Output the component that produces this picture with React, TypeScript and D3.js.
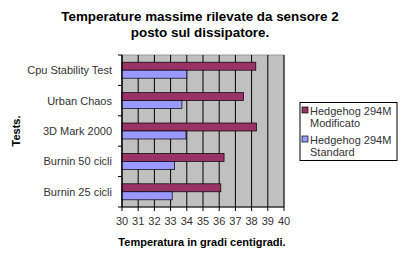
import React from "react";
import * as d3 from "d3";

const categories = ["Cpu Stability Test", "Urban Chaos", "3D Mark 2000", "Burnin 50 cicli", "Burnin 25 cicli"];
const modificato = [38.26, 37.5, 38.3, 36.3, 36.1];
const standard = [34.0, 33.7, 33.95, 33.25, 33.1];
const xTicks = [30, 31, 32, 33, 34, 35, 36, 37, 38, 39, 40];
const seriesNames = [["Hedgehog 294M", "Modificato"], ["Hedgehog 294M", "Standard"]];
const seriesColors = ["#993366", "#9999ff"];

const W = 400, H = 260;
const plot = { left: 122, right: 284, top: 55, bottom: 207 };
const font = "'Liberation Sans', Arial, sans-serif";

export default function App() {
  const x = d3.scaleLinear().domain([30, 40]).range([plot.left, plot.right]);
  const y = d3.scaleBand<string>().domain(categories).range([plot.top, plot.bottom]).padding(0);
  const bw = y.bandwidth();
  const barH = 8;
  const series = [modificato, standard];

  return (
    <svg width={W} height={H} style={{ position: "absolute", left: 0, top: 0, background: "#fff" }} fontFamily={font}>
      <rect x={0} y={0} width={W} height={H} fill="#fff" />
      <text x={200} y={21} textAnchor="middle" fontSize={13.4} fontWeight="bold" fill="#000">Temperature massime rilevate da sensore 2</text>
      <text x={200} y={37} textAnchor="middle" fontSize={13.4} fontWeight="bold" fill="#000">posto sul dissipatore.</text>

      <rect x={plot.left} y={plot.top} width={plot.right - plot.left} height={plot.bottom - plot.top} fill="#c0c0c0" stroke="#999" strokeWidth={1} />
      {xTicks.map((t) => (
        <line key={"g" + t} x1={x(t)} x2={x(t)} y1={plot.top} y2={plot.bottom} stroke="#000" strokeWidth={1} />
      ))}

      {categories.map((c, i) => (
        <g key={c}>
          {series.map((s, j) => (
            <rect key={j}
              x={x(30)}
              y={(y(c) as number) + bw / 2 - barH + j * barH}
              width={x(s[i]) - x(30)}
              height={barH}
              fill={seriesColors[j]}
              stroke="#000" strokeWidth={0.7} />
          ))}
          <text x={112} y={(y(c) as number) + bw / 2 + 4} textAnchor="end" fontSize={11} fill="#333">{c}</text>
        </g>
      ))}

      <line x1={plot.left} x2={plot.left} y1={plot.top} y2={plot.bottom} stroke="#000" />
      <line x1={plot.left} x2={plot.right} y1={plot.bottom} y2={plot.bottom} stroke="#000" />
      {d3.range(categories.length + 1).map((k) => (
        <line key={"yt" + k} x1={plot.left - 4} x2={plot.left} y1={plot.top + k * bw} y2={plot.top + k * bw} stroke="#000" />
      ))}
      {xTicks.map((t) => (
        <g key={"t" + t}>
          <line x1={x(t)} x2={x(t)} y1={plot.bottom} y2={plot.bottom + 4} stroke="#000" />
          <text x={x(t)} y={plot.bottom + 18} textAnchor="middle" fontSize={11} fill="#333">{t}</text>
        </g>
      ))}

      <text x={202} y={246} textAnchor="middle" fontSize={11} fontWeight="bold" fill="#000">Temperatura in gradi centigradi.</text>
      <text transform="translate(20,131) rotate(-90)" textAnchor="middle" fontSize={11} fontWeight="bold" fill="#000">Tests.</text>

      <rect x={300} y={102.5} width={97} height={58} fill="#fff" stroke="#000" strokeWidth={1} />
      {seriesNames.map((n, j) => (
        <g key={j}>
          <rect x={302} y={107 + j * 29} width={6} height={6} fill={seriesColors[j]} stroke="#000" strokeWidth={0.7} />
          <text x={310} y={115 + j * 29} fontSize={11} fill="#333">{n[0]}</text>
          <text x={310} y={127 + j * 29} fontSize={11} fill="#333">{n[1]}</text>
        </g>
      ))}
    </svg>
  );
}
